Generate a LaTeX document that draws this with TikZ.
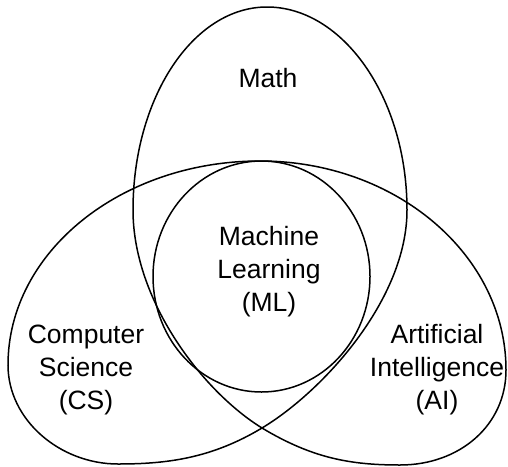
\documentclass[tikz,border=0pt]{standalone}
\usepackage{fontspec}
\setmainfont{Liberation Sans}
\begin{document}
\begin{tikzpicture}[x=1pt,y=-1pt,line width=1.5pt,
	label/.style={align=center,font=\fontsize{26.5}{33}\selectfont}]
	\useasboundingbox (0,0) rectangle (508,466);
	
	% the three lobes: one closed curve
	\draw (267,7) .. controls (193,7) and (133,98) .. (133,210)
		.. controls (133,300) and (202,391) .. (262,428)
		.. controls (312,458) and (350,465) .. (400,465)
		.. controls (460,465) and (506,425) .. (506,370)
		.. controls (506,255) and (396,161) .. (260,161)
		.. controls (121,161) and (8,252) .. (8,365)
		.. controls (8,420) and (60,464) .. (118,464)
		.. controls (168,464) and (212,458) .. (262,428)
		.. controls (322,392) and (407,300) .. (407,210)
		.. controls (407,98) and (343,7) .. cycle;
	
	% inner circle
	\draw (261.5,276.5) ellipse [x radius=108.5pt, y radius=115.5pt];
	
	\node[label] (math) at (268,78) {Math};
	\node[label] (ml) at (269,272) {Machine\\Learning\\(ML)};
	\node[label] (cs) at (86,370) {Computer\\Science\\(CS)};
	\node[label] (ai) at (437,370) {Artificial\\Intelligence\\(AI)};
\end{tikzpicture}
\end{document}
